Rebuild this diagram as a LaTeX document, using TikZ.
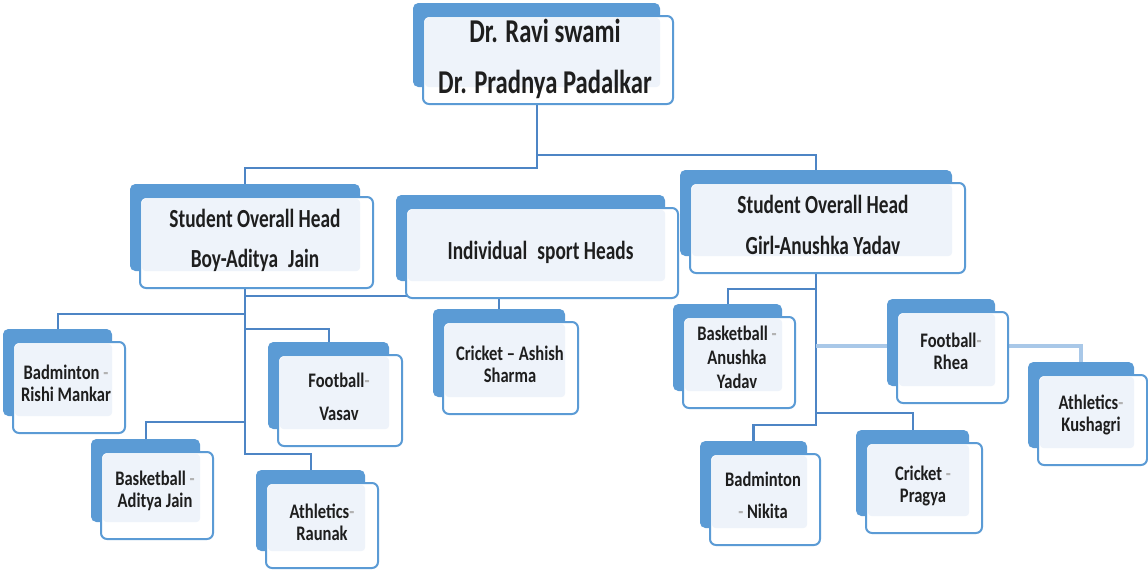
\documentclass[tikz,border=0pt]{standalone}
\usepackage{fontspec}
\setmainfont{Carlito}
\usetikzlibrary{backgrounds}
\definecolor{sbblue}{HTML}{5B9BD5}
\definecolor{sbedge}{HTML}{5B9BD5}
\definecolor{sblight}{HTML}{EEF3FA}
\definecolor{sbconn}{HTML}{4D85C5}
\definecolor{sbconnlt}{HTML}{A9C8E8}
\definecolor{sbtext}{HTML}{1E1E1E}
\newcommand\hy{\textcolor{black!30}{-}}
\newcommand\stx[2]{\scalebox{1}[#1]{\begin{tabular}{@{}c@{}}#2\end{tabular}}}
\newcommand\card[5]{%
  \node[backbox, minimum width={(#4-#2-3)*0.75pt}, minimum height={(#5-#3-4)*0.75pt}] (#1) at ({(#2+#4)/2-11.5},{(#3+#5)/2-15}) {};
  \node[frontbox, minimum width={(#4-#2)*0.75pt}, minimum height={(#5-#3)*0.75pt}] (#1-f) at ({(#2+#4)/2},{(#3+#5)/2}) {};
  \fill[sblight, rounded corners=2.5pt] ({#2+2},{#3+2}) rectangle ({#4-13},{#5-17});
}
\tikzset{
  backbox/.style={fill=sbblue, draw=none, rounded corners=4pt, inner sep=0pt, outer sep=0pt},
  frontbox/.style={fill=white, draw=sbedge, line width=1.5pt, rounded corners=4.5pt, inner sep=0pt, outer sep=0pt},
  toptxt/.style={text=sbtext, inner sep=0pt, font=\fontsize{18.5}{28.3}\selectfont\bfseries},
  headtxt/.style={text=sbtext, inner sep=0pt, font=\fontsize{14.5}{22.5}\selectfont\bfseries},
  smalltxt/.style={text=sbtext, inner sep=0pt, font=\fontsize{12.4}{13.2}\selectfont\bfseries},
  conn/.style={draw=sbconn, line width=1.5pt},
  connthick/.style={draw=sbconn, line width=2.2pt},
  connlt/.style={draw=sbconnlt, line width=2.4pt},
}
\begin{document}
\begin{tikzpicture}[x=0.75pt, y=-0.75pt]
\useasboundingbox (0,0) rectangle (1148,571);

% cards (front box corners)
\card{top}{423}{16}{673}{104}
\card{lhead}{140}{197}{373}{288}
\card{mid}{406}{208}{678}{298}
\card{rhead}{690}{183}{965}{273}
\card{bad1}{13}{342}{125}{433}
\card{foot1}{278}{355}{402}{446}
\card{bask1}{101}{452}{213}{539}
\card{ath1}{266}{483}{378}{568}
\card{cric1}{443}{322}{578}{414}
\card{bask2}{683}{317}{795}{408}
\card{foot2}{897}{312}{1008}{403}
\card{ath2}{1038}{375}{1147}{465}
\card{bad2}{710}{454}{820}{545}
\card{cric2}{866}{443}{982}{533}

% texts
\node[toptxt] (top-t) at (545,57.5) {\stx{1.35}{Dr. Ravi swami\\Dr. Pradnya Padalkar}};
\node[headtxt] (lhead-t) at (255,239.5) {\stx{1.35}{Student Overall Head\\Boy-Aditya\hspace{0.3em} Jain}};
\node[headtxt] (mid-t) at (540.5,251) {\stx{1.35}{Individual\hspace{0.3em} sport Heads}};
\node[headtxt] (rhead-t) at (823,226) {\stx{1.35}{Student Overall Head\\Girl-Anushka Yadav}};
\node[smalltxt] (bad1-t) at (66,386.5) {\stx{1.25}{Badminton \hy\\Rishi Mankar}};
\node[smalltxt] (foot1-t) at (339,399.5) {\stx{1.25}{Football\hy\\[7pt]Vasav}};
\node[smalltxt] (bask1-t) at (155,492) {\stx{1.25}{Basketball \hy\\Aditya Jain}};
\node[smalltxt] (ath1-t) at (322,525) {\stx{1.25}{Athletics\hy\\Raunak}};
\node[smalltxt] (cric1-t) at (510,367.5) {\stx{1.25}{Cricket – Ashish\\Sharma}};
\node[smalltxt] (bask2-t) at (737,360) {\stx{1.25}{Basketball \hy\\[1pt]Anushka\\[1pt]Yadav}};
\node[smalltxt] (foot2-t) at (951,354) {\stx{1.25}{Football\hy\\Rhea}};
\node[smalltxt] (ath2-t) at (1091,416) {\stx{1.25}{Athletics\hy\\Kushagri}};
\node[smalltxt] (bad2-t) at (763,498) {\stx{1.25}{Badminton\\[6.4pt]\hy\ Nikita}};
\node[smalltxt] (cric2-t) at (923,487) {\stx{1.25}{Cricket \hy\\Pragya}};

% level coordinates
\coordinate (yA) at (0,168);
\coordinate (yB) at (0,155);
\coordinate (yL1) at (0,296);
\coordinate (yL2) at (0,314);
\coordinate (yL3) at (0,329);
\coordinate (yL4) at (0,422);
\coordinate (yL5) at (0,454);
\coordinate (yR1) at (0,289);
\coordinate (yR2) at (0,346);
\coordinate (yR3) at (0,413);
\coordinate (yR5) at (0,425);

\begin{pgfonlayer}{background}
  \fill[white] (0,0) rectangle (1148,571);
  \draw[conn] (top.center) -- (top.center |- yA) -| (lhead.center);
  \draw[conn] (top.center |- yB) -| (rhead.center);
  % left subtree
  \draw[conn] (lhead.center) -- (lhead.center |- yL5) -| (ath1.center);
  \draw[conn] (lhead.center |- yL1) -- (mid.center |- yL1);
  \draw[conn] (lhead.center |- yL2) -| (bad1.center);
  \draw[conn] (lhead.center |- yL3) -| (foot1.center);
  \draw[conn] (lhead.center |- yL4) -| (bask1.center);
  \draw[conn] (cric1.center |- mid.center) -- (cric1.center);
  % right subtree
  \draw[connthick] (rhead.center) -- (rhead.center |- yR5) -| (bad2.center);
  \draw[conn] (rhead.center |- yR1) -| (bask2.center);
  \draw[conn] (rhead.center |- yR3) -| (cric2.center);
  \draw[connlt] (rhead.center |- yR2) -- (foot2.center |- yR2);
  \draw[connlt] (foot2.center |- yR2) -| (ath2.center);
\end{pgfonlayer}
\end{tikzpicture}
\end{document}
